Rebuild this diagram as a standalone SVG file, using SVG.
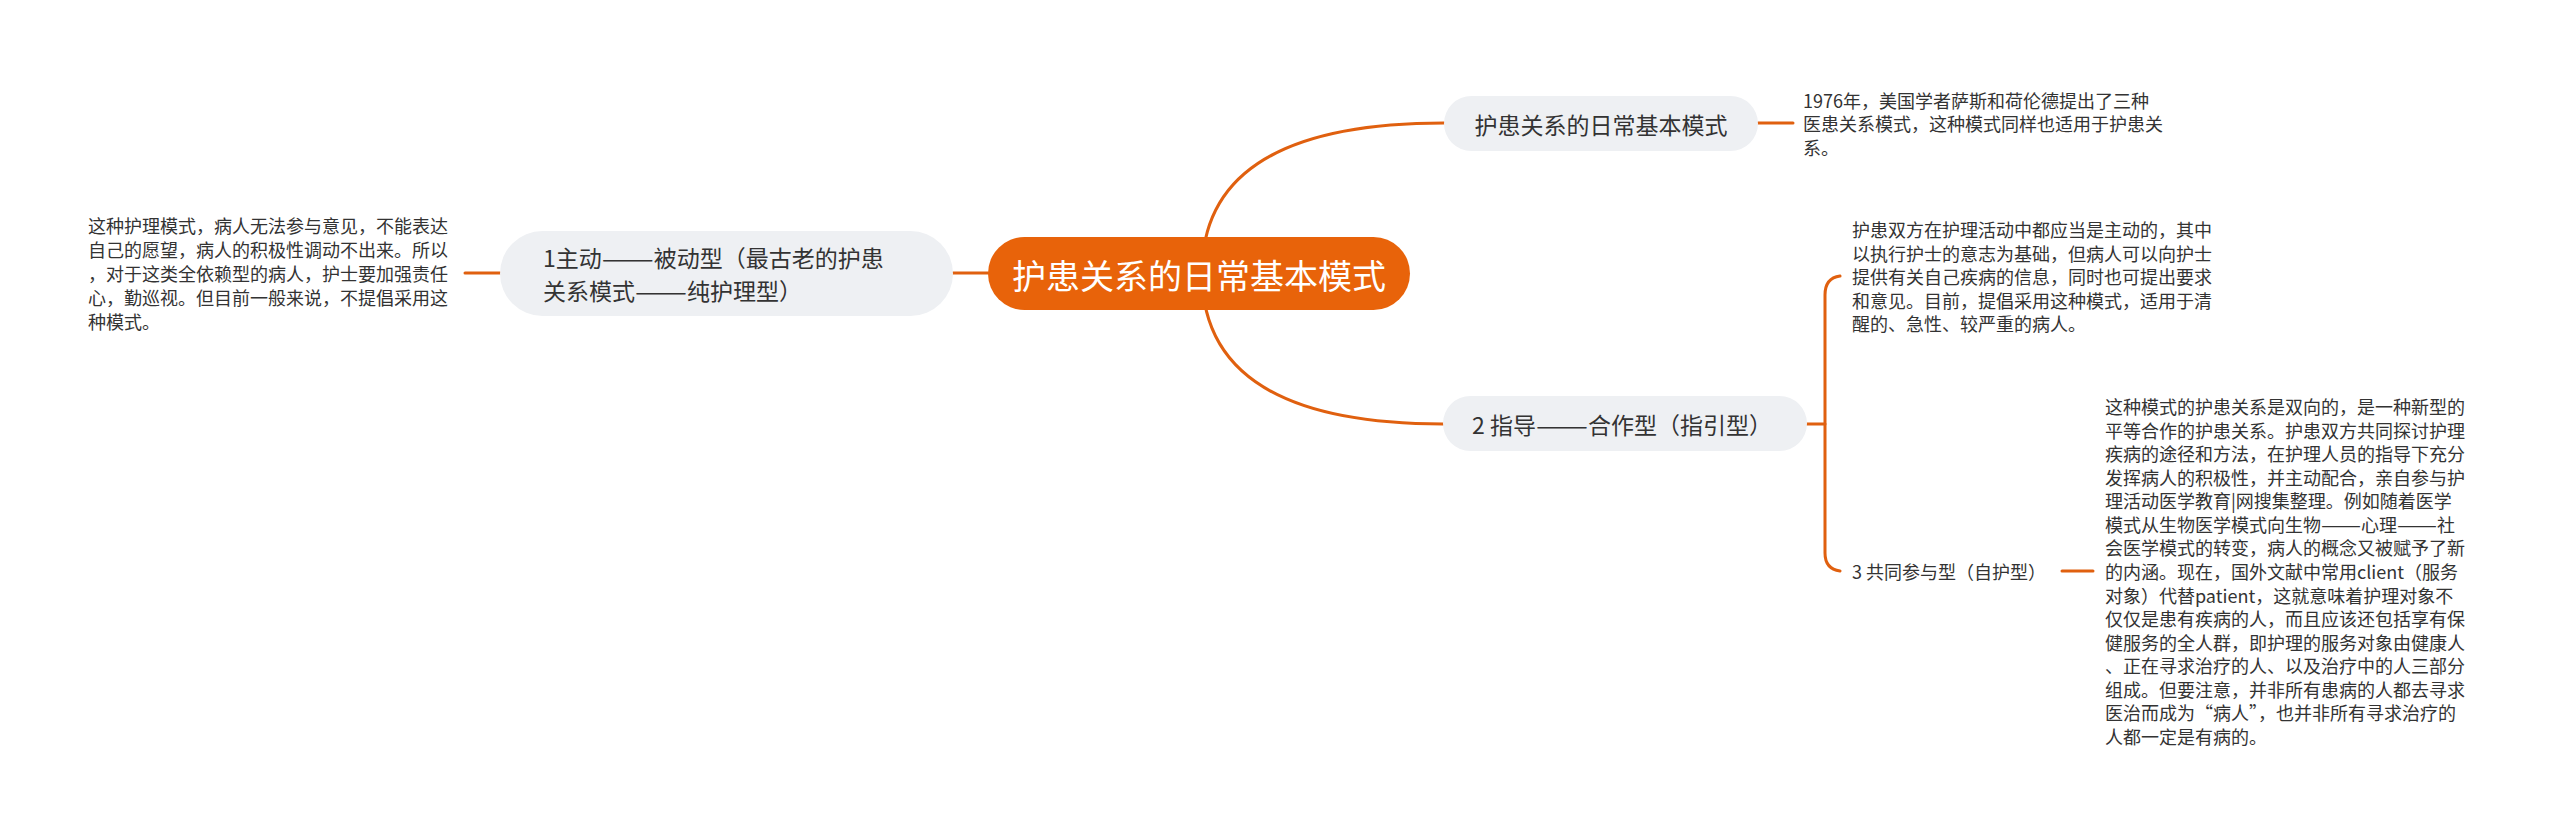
<svg xmlns="http://www.w3.org/2000/svg" width="2560" height="836" viewBox="0 0 2560 836">
<style>
.bg{fill:#ffffff}
.ln{fill:none;stroke:#E0600F;stroke-width:3;stroke-linecap:round}
.sub{fill:#EEF0F3}
.root{fill:#E8630A}
.t{font-family:"Noto Sans CJK SC","Noto Sans",sans-serif;fill:#333333}
.tr{font-family:"Noto Sans CJK SC","Noto Sans",sans-serif;fill:#ffffff;font-size:34px}
.ts{font-size:23px}
.tx{font-size:18px}
</style>
<rect class="bg" x="0" y="0" width="2560" height="836"/>
<g id="connectors">
<path class="ln" d="M 1202 273 Q 1202 123 1444 123"/>
<path class="ln" d="M 1202 273 Q 1202 424 1443 424"/>
<path class="ln" d="M 953 273 L 988 273"/>
<path class="ln" d="M 465 273 L 500 273"/>
<path class="ln" d="M 1758 123 L 1793 123"/>
<path class="ln" d="M 1807 424 L 1825 424"/>
<path class="ln" d="M 1840 276 Q 1825 278 1825 295 L 1825 553 Q 1825 569 1840 571"/>
<path class="ln" d="M 2062 571 L 2093 571"/>
</g>
<g id="root">
<rect class="root" x="988" y="237" width="422" height="73" rx="36.5"/>
<text class="tr" x="1199" y="274" text-anchor="middle" dominant-baseline="central">护患关系的日常基本模式</text>
</g>
<g id="node-top">
<rect class="sub" x="1444" y="96" width="314" height="55" rx="27.5"/>
<text class="t ts" x="1601" y="123.5" text-anchor="middle" dominant-baseline="central">护患关系的日常基本模式</text>
</g>
<g id="node-top-text">
<text class="t tx" x="1803" dominant-baseline="central"><tspan x="1803" y="99.5">1976年，美国学者萨斯和荷伦德提出了三种</tspan><tspan x="1803" y="123">医患关系模式，这种模式同样也适用于护患关</tspan><tspan x="1803" y="146.5">系。</tspan></text>
</g>
<g id="node-left">
<rect class="sub" x="500" y="231" width="453" height="85" rx="42.5"/>
<text class="t ts" dominant-baseline="central"><tspan x="543" y="257">1主动</tspan><tspan textLength="52" lengthAdjust="spacingAndGlyphs">——</tspan><tspan>被动型（最古老的护患</tspan><tspan x="543" y="290">关系模式</tspan><tspan textLength="52" lengthAdjust="spacingAndGlyphs">——</tspan><tspan>纯护理型）</tspan></text>
</g>
<g id="node-left-text">
<text class="t tx" x="88" dominant-baseline="central"><tspan x="88" y="225">这种护理模式，病人无法参与意见，不能表达</tspan><tspan x="88" y="249">自己的愿望，病人的积极性调动不出来。所以</tspan><tspan x="88" y="273">，对于这类全依赖型的病人，护士要加强责任</tspan><tspan x="88" y="297">心，勤巡视。但目前一般来说，不提倡采用这</tspan><tspan x="88" y="321">种模式。</tspan></text>
</g>
<g id="node-guide">
<rect class="sub" x="1443" y="396" width="364" height="55" rx="27.5"/>
<text class="t ts" x="1472" y="424" dominant-baseline="central">2 指导<tspan textLength="52" lengthAdjust="spacingAndGlyphs">——</tspan>合作型（指引型）</text>
</g>
<g id="node-guide-text">
<text class="t tx" x="1852" dominant-baseline="central"><tspan x="1852" y="229">护患双方在护理活动中都应当是主动的，其中</tspan><tspan x="1852" y="252.5">以执行护士的意志为基础，但病人可以向护士</tspan><tspan x="1852" y="276">提供有关自己疾病的信息，同时也可提出要求</tspan><tspan x="1852" y="299.5">和意见。目前，提倡采用这种模式，适用于清</tspan><tspan x="1852" y="323">醒的、急性、较严重的病人。</tspan></text>
</g>
<g id="node-joint">
<text class="t tx" x="1852" y="571" dominant-baseline="central">3 共同参与型（自护型）</text>
</g>
<g id="node-joint-text">
<text class="t tx" x="2105" dominant-baseline="central"><tspan x="2105" y="406">这种模式的护患关系是双向的，是一种新型的</tspan><tspan x="2105" y="429.5">平等合作的护患关系。护患双方共同探讨护理</tspan><tspan x="2105" y="453">疾病的途径和方法，在护理人员的指导下充分</tspan><tspan x="2105" y="476.5">发挥病人的积极性，并主动配合，亲自参与护</tspan><tspan x="2105" y="500">理活动医学教育|网搜集整理。例如随着医学</tspan><tspan x="2105" y="523.5">模式从生物医学模式向生物</tspan><tspan textLength="40" lengthAdjust="spacingAndGlyphs">——</tspan><tspan>心理</tspan><tspan textLength="40" lengthAdjust="spacingAndGlyphs">——</tspan><tspan>社</tspan><tspan x="2105" y="547">会医学模式的转变，病人的概念又被赋予了新</tspan><tspan x="2105" y="571">的内涵。现在，国外文献中常用client（服务</tspan><tspan x="2105" y="594.5">对象）代替patient，这就意味着护理对象不</tspan><tspan x="2105" y="618">仅仅是患有疾病的人，而且应该还包括享有保</tspan><tspan x="2105" y="641.5">健服务的全人群，即护理的服务对象由健康人</tspan><tspan x="2105" y="665">、正在寻求治疗的人、以及治疗中的人三部分</tspan><tspan x="2105" y="688.5">组成。但要注意，并非所有患病的人都去寻求</tspan><tspan x="2105" y="712">医治而成为“病人”，也并非所有寻求治疗的</tspan><tspan x="2105" y="735.5">人都一定是有病的。</tspan></text>
</g>
</svg>
